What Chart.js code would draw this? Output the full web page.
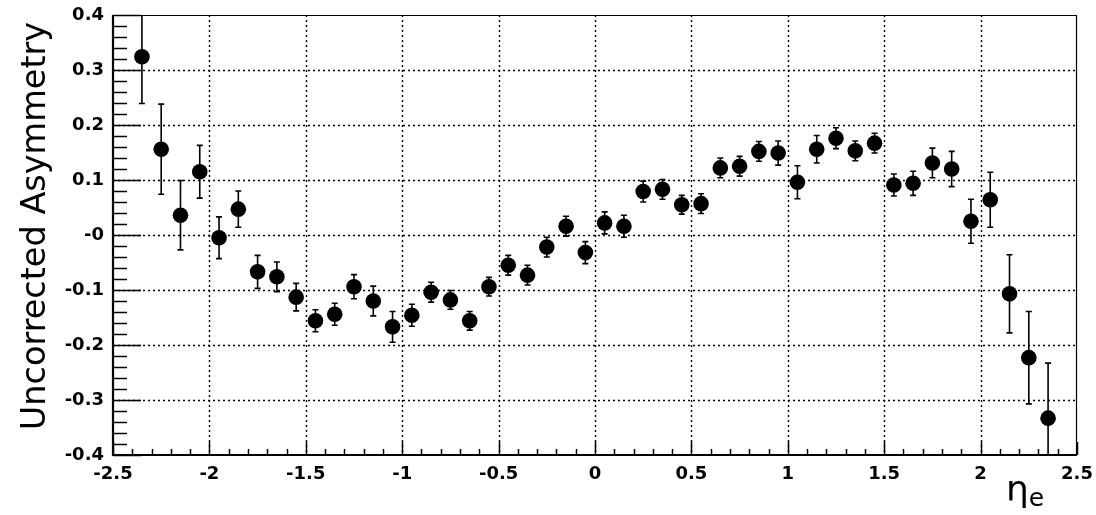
<!DOCTYPE html>
<html>
<head>
<meta charset="utf-8">
<script src="https://cdn.jsdelivr.net/npm/chart.js@4.4.1/dist/chart.umd.min.js"></script>
<style>
html,body{margin:0;padding:0;background:#fff;}
#wrap{width:1096px;height:515px;position:relative;}
</style>
</head>
<body>
<div id="wrap"><canvas id="c"></canvas></div>
<script>
const etaCenters = [-2.35,-2.25,-2.15,-2.05,-1.95,-1.85,-1.75,-1.65,-1.55,-1.45,-1.35,-1.25,-1.15,-1.05,-0.95,-0.85,-0.75,-0.65,-0.55,-0.45,-0.35,-0.25,-0.15,-0.05,0.05,0.15,0.25,0.35,0.45,0.55,0.65,0.75,0.85,0.95,1.05,1.15,1.25,1.35,1.45,1.55,1.65,1.75,1.85,1.95,2.05,2.15,2.25,2.35];
const asymmetry = [0.324,0.156,0.036,0.115,-0.005,0.047,-0.067,-0.076,-0.113,-0.156,-0.144,-0.094,-0.120,-0.167,-0.146,-0.104,-0.118,-0.156,-0.094,-0.055,-0.073,-0.022,0.016,-0.032,0.022,0.016,0.079,0.083,0.055,0.057,0.122,0.125,0.152,0.149,0.096,0.156,0.176,0.153,0.167,0.091,0.094,0.131,0.120,0.025,0.064,-0.107,-0.223,-0.333];
const errors = [0.085,0.082,0.063,0.048,0.038,0.033,0.030,0.027,0.025,0.020,0.020,0.022,0.027,0.028,0.020,0.018,0.017,0.017,0.017,0.018,0.018,0.018,0.018,0.020,0.020,0.020,0.019,0.018,0.017,0.018,0.018,0.018,0.018,0.022,0.030,0.025,0.019,0.018,0.018,0.020,0.022,0.027,0.032,0.040,0.050,0.071,0.084,0.100];
const xTickLabels = ['-2.5','-2','-1.5','-1','-0.5','0','0.5','1','1.5','2','2.5'];
const yTickLabels = ['-0.4','-0.3','-0.2','-0.1','-0','0.1','0.2','0.3','0.4'];
const yTitle = 'Uncorrected Asymmetry';
const xTitleMain = 'η';
const xTitleSub = 'e';

const points = etaCenters.map((x,i)=>({x:x,y:asymmetry[i],e:errors[i]}));
const tickFont = { family: '"DejaVu Sans", "Liberation Sans", sans-serif', size: 18, weight: 'bold' };

const rootPlugin = {
  id:'rootStyle',
  beforeDatasetsDraw(chart){
    const ctx = chart.ctx, xs = chart.scales.x, ys = chart.scales.y, a = chart.chartArea;
    ctx.save();
    ctx.strokeStyle = '#000'; ctx.lineWidth = 1.4;
    ctx.setLineDash([2,3]);
    ctx.beginPath();
    xs.ticks.forEach(t=>{
      if (Math.abs(t.value) > 2.49) return;
      const px = Math.round(xs.getPixelForValue(t.value)) + 0.5;
      ctx.moveTo(px, a.top); ctx.lineTo(px, a.bottom);
    });
    ys.ticks.forEach(t=>{
      if (Math.abs(t.value) > 0.399) return;
      const py = Math.round(ys.getPixelForValue(t.value)) + 0.5;
      ctx.moveTo(a.left, py); ctx.lineTo(a.right, py);
    });
    ctx.stroke();
    ctx.setLineDash([]);
    ctx.beginPath(); ctx.rect(a.left, a.top, a.right-a.left, a.bottom-a.top); ctx.clip();
    ctx.strokeStyle = '#000'; ctx.lineWidth = 1.6;
    ctx.beginPath();
    points.forEach(p=>{
      const px = xs.getPixelForValue(p.x);
      const y1 = ys.getPixelForValue(p.y + p.e);
      const y2 = ys.getPixelForValue(p.y - p.e);
      ctx.moveTo(px, y1); ctx.lineTo(px, y2);
      ctx.moveTo(px-3, y1); ctx.lineTo(px+3, y1);
      ctx.moveTo(px-3, y2); ctx.lineTo(px+3, y2);
    });
    ctx.stroke();
    ctx.restore();
  },
  afterDraw(chart){
    const ctx = chart.ctx, xs = chart.scales.x, ys = chart.scales.y, a = chart.chartArea;
    ctx.save();
    ctx.strokeStyle = '#000';
    ctx.lineWidth = 1.2;
    ctx.beginPath();
    ctx.moveTo(a.left, a.top+0.5); ctx.lineTo(a.right, a.top+0.5);
    ctx.moveTo(a.right-0.5, a.top); ctx.lineTo(a.right-0.5, a.bottom);
    ctx.stroke();
    ctx.lineWidth = 1.5;
    ctx.beginPath();
    for (let k = 0; k <= 40; k++) {
      const v = -0.4 + k*0.02;
      const py = Math.round(ys.getPixelForValue(v)) + 0.5;
      const len = (k % 5 === 0) ? 28 : 14;
      ctx.moveTo(a.left, py); ctx.lineTo(a.left + len, py);
    }
    for (let k = 0; k <= 50; k++) {
      const v = -2.5 + k*0.1;
      const px = Math.round(xs.getPixelForValue(v)) + 0.5;
      const len = (k % 5 === 0) ? 13 : 6;
      ctx.moveTo(px, a.bottom); ctx.lineTo(px, a.bottom - len);
    }
    ctx.stroke();
    ctx.lineWidth = 2.2;
    ctx.beginPath();
    ctx.moveTo(a.left, a.top); ctx.lineTo(a.left, a.bottom+1);
    ctx.moveTo(a.left-1, a.bottom); ctx.lineTo(a.right, a.bottom);
    ctx.stroke();
    ctx.fillStyle = '#000';
    ctx.font = '33.5px "DejaVu Sans", "Liberation Sans", sans-serif';
    ctx.translate(36, 226);
    ctx.rotate(-Math.PI/2);
    ctx.textAlign = 'center'; ctx.textBaseline = 'middle';
    ctx.fillText(yTitle, 0, 0);
    ctx.restore();
    ctx.save();
    ctx.fillStyle = '#000';
    ctx.textBaseline = 'alphabetic'; ctx.textAlign = 'left';
    ctx.font = '36px "DejaVu Sans", "Liberation Sans", sans-serif';
    ctx.fillText(xTitleMain, 1006, 501);
    const w = ctx.measureText(xTitleMain).width;
    ctx.font = '25px "DejaVu Sans", "Liberation Sans", sans-serif';
    ctx.fillText(xTitleSub, 1006 + w, 506);
    ctx.restore();
  }
};

new Chart(document.getElementById('c'), {
  type: 'scatter',
  data: {
    datasets: [{
      data: points,
      backgroundColor: '#000',
      borderColor: '#000',
      pointRadius: 7.8,
      pointHoverRadius: 7.8,
      borderWidth: 0
    }]
  },
  options: {
    responsive: true,
    maintainAspectRatio: false,
    animation: false,
    devicePixelRatio: 1,
    layout: { padding: { top: 15, right: 19, left: 0, bottom: 0 } },
    plugins: { legend: { display: false }, tooltip: { enabled: false } },
    scales: {
      x: {
        type: 'linear', min: -2.5, max: 2.5,
        afterFit(s){ s.height = 60; s.paddingLeft = 0; s.paddingRight = 0; },
        border: { display: false },
        grid: { display: false, drawTicks: false },
        ticks: {
          stepSize: 0.5,
          padding: 9,
          color: '#000',
          font: tickFont,
          callback: (v) => xTickLabels[Math.round((v + 2.5) / 0.5)],
          maxRotation: 0, autoSkip: false
        }
      },
      y: {
        type: 'linear', min: -0.4, max: 0.4,
        afterFit(s){ s.width = 113; s.paddingTop = 0; s.paddingBottom = 0; },
        border: { display: false },
        grid: { display: false, drawTicks: false },
        ticks: {
          stepSize: 0.1,
          padding: 9,
          color: '#000',
          font: tickFont,
          callback: (v) => yTickLabels[Math.round((v + 0.4) / 0.1)],
          autoSkip: false
        }
      }
    }
  },
  plugins: [rootPlugin]
});
</script>
</body>
</html>
